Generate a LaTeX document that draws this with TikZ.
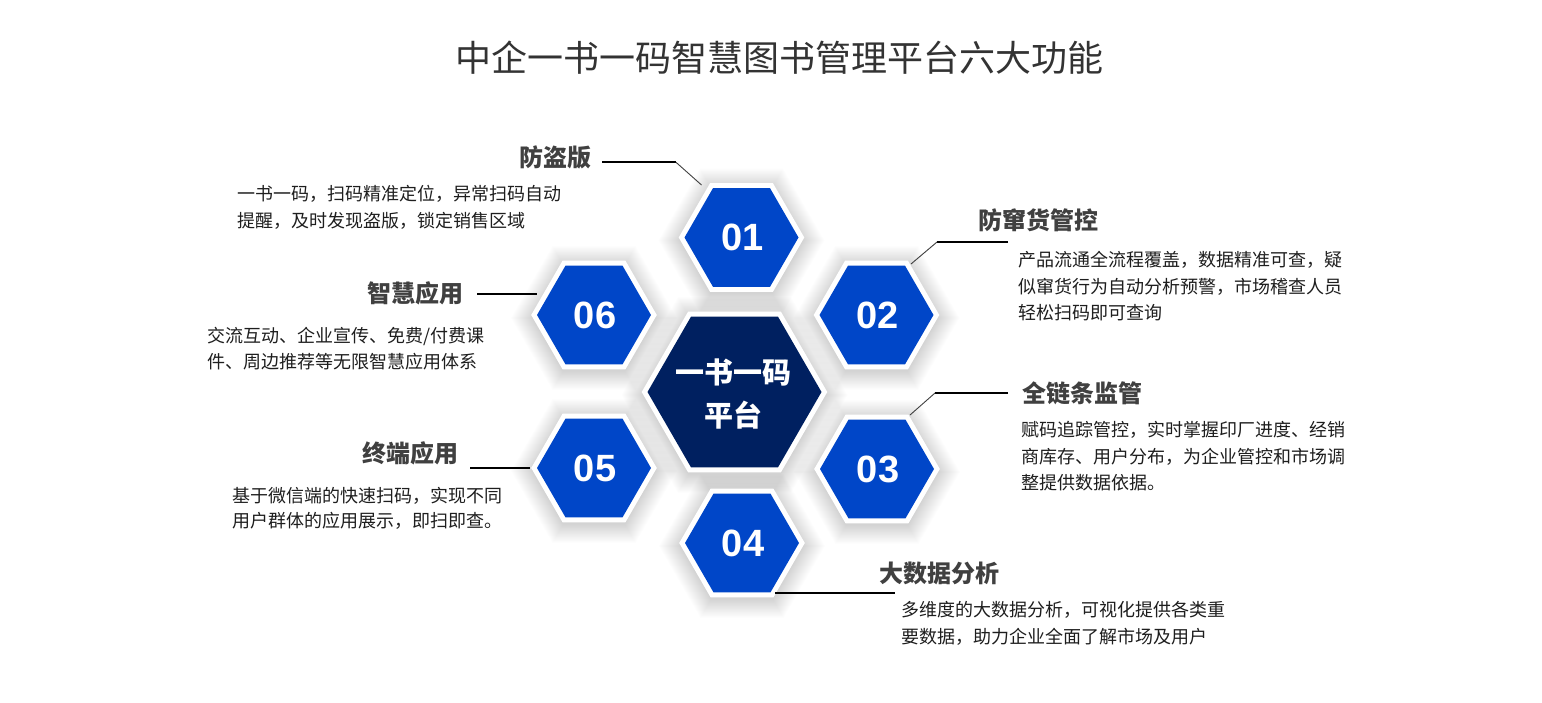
\documentclass[tikz,border=0pt]{standalone}
\usepackage{fontspec}
\newfontfamily\cjk{Noto Sans CJK SC}
\newfontfamily\numf{Liberation Sans}
\definecolor{hexblue}{RGB}{0,70,200}
\definecolor{hexnavy}{RGB}{0,32,96}
\definecolor{labgray}{RGB}{64,64,64}
\definecolor{txtc}{RGB}{30,30,30}
\definecolor{titlec}{RGB}{51,51,51}
\begin{document}
\begin{tikzpicture}[x=1pt,y=-1pt,
  desc/.style={anchor=base west,inner sep=0pt,text=txtc,font=\cjk\fontsize{18}{20}\selectfont},
  lab/.style={anchor=base west,inner sep=0pt,text=labgray,font=\cjk\bfseries\fontsize{24}{26}\selectfont},
  num/.style={inner sep=0pt,text=white,font=\numf\bfseries\fontsize{38}{40}\selectfont},
  ctext/.style={anchor=base,inner sep=0pt,text=white,font=\cjk\bfseries\fontsize{29}{31}\selectfont},
  hline/.style={line width=1.6pt,black},
  dline/.style={line width=0.9pt,black!75}]
\useasboundingbox[fill=white] (0,0) rectangle (1542,703);

% soft shadows
\foreach \x/\y/\r in {741.5/237.5/57, 876.5/315/57, 877/469/57, 742/543/57, 594/468/57, 594/315/57, 734.5/392/87}{
  \foreach \k in {1,...,22}{
    \pgfmathsetmacro\rr{\r+4+\k}
    \fill[black,opacity=0.0075] (\x,\y+3) +(0:\rr) -- +(60:\rr) -- +(120:\rr) -- +(180:\rr) -- +(240:\rr) -- +(300:\rr) -- cycle;
  }
}
% white borders and hexagons
\foreach \x/\y/\r/\c in {741.5/237.5/57/hexblue, 876.5/315/57/hexblue, 877/469/57/hexblue, 742/543/57/hexblue, 594/468/57/hexblue, 594/315/57/hexblue, 734.5/392/87/hexnavy}{
  \pgfmathsetmacro\rw{\r+5.8}
  \fill[white] (\x,\y) +(0:\rw) -- +(60:\rw) -- +(120:\rw) -- +(180:\rw) -- +(240:\rw) -- +(300:\rw) -- cycle;
  \fill[\c] (\x,\y) +(0:\r) -- +(60:\r) -- +(120:\r) -- +(180:\r) -- +(240:\r) -- +(300:\r) -- cycle;
}

% numbers
\node[num] (h1) at (742.5,237.5) {01};
\node[num] (h2) at (877.5,315) {02};
\node[num] (h3) at (878,469) {03};
\node[num] (h4) at (743,543) {04};
\node[num] (h5) at (595,468) {05};
\node[num] (h6) at (595,315) {06};
\node[ctext] (hc1) at (733.5,383) {一书一码};
\node[ctext] (hc2) at (733.5,426.5) {平台};

% title
\node[anchor=base,inner sep=0pt,text=titlec,font=\cjk\fontsize{36}{40}\selectfont] (title) at (779,71.7) {中企一书一码智慧图书管理平台六大功能};

% 01
\node[lab] (l1) at (519,167) {防盗版};
\node[desc] (d1a) at (237,201) {一书一码，扫码精准定位，异常扫码自动};
\node[desc] (d1b) at (237,228) {提醒，及时发现盗版，锁定销售区域};
% 02
\node[lab] (l2) at (978,229.5) {防窜货管控};
\node[desc] (d2a) at (1018,266.8) {产品流通全流程覆盖，数据精准可查，疑};
\node[desc] (d2b) at (1018,293.3) {似窜货行为自动分析预警，市场稽查人员};
\node[desc] (d2c) at (1018,319.8) {轻松扫码即可查询};
% 03
\node[lab] (l3) at (1022,402) {全链条监管};
\node[desc] (d3a) at (1021,436.8) {赋码追踪管控，实时掌握印厂进度、经销};
\node[desc] (d3b) at (1021,463.3) {商库存、用户分布，为企业管控和市场调};
\node[desc] (d3c) at (1021,489.8) {整提供数据依据。};
% 04
\node[lab] (l4) at (879,582) {大数据分析};
\node[desc] (d4a) at (901,616.8) {多维度的大数据分析，可视化提供各类重};
\node[desc] (d4b) at (901,643.3) {要数据，助力企业全面了解市场及用户};
% 05
\node[lab] (l5) at (362,462) {终端应用};
\node[desc] (d5a) at (232,502) {基于微信端的快速扫码，实现不同};
\node[desc] (d5b) at (232,527.5) {用户群体的应用展示，即扫即查。};
% 06
\node[lab] (l6) at (367,302) {智慧应用};
\node[desc] (d6a) at (207,342.8) {交流互动、企业宣传、免费/付费课};
\node[desc] (d6b) at (207,368.5) {件、周边推荐等无限智慧应用体系};

% connectors
\coordinate (c1a) at (602,162.3);
\coordinate (c1b) at (676,162.3);
\coordinate (c1c) at (701.5,185);
\draw[hline] (c1a) -- (c1b);
\draw[dline] (c1b) -- (c1c);

\coordinate (c2a) at (1008,242);
\coordinate (c2b) at (937,242);
\coordinate (c2c) at (911,264);
\draw[hline] (c2a) -- (c2b);
\draw[dline] (c2b) -- (c2c);

\coordinate (c3a) at (1008,393);
\coordinate (c3b) at (935,393);
\coordinate (c3c) at (910,415);
\draw[hline] (c3a) -- (c3b);
\draw[dline] (c3b) -- (c3c);

\coordinate (c4a) at (775,593);
\coordinate (c4b) at (895,593);
\draw[hline] (c4a) -- (c4b);

\coordinate (c5a) at (470,468);
\coordinate (c5b) at (530,468);
\draw[hline] (c5a) -- (c5b);

\coordinate (c6a) at (477,294.3);
\coordinate (c6b) at (537,294.3);
\draw[hline] (c6a) -- (c6b);
\end{tikzpicture}
\end{document}
